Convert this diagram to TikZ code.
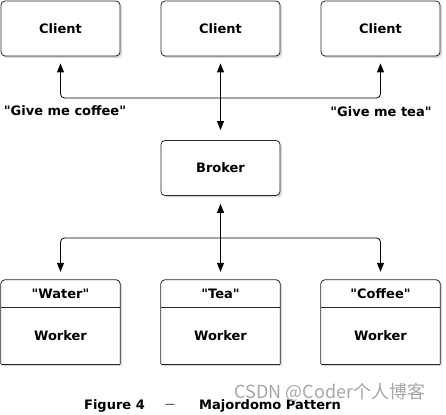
\documentclass[tikz,border=0pt]{standalone}
\usepackage{fontspec}
\setmainfont{DejaVu Sans}[Ligatures=TeXOff]
\newfontfamily\cjkfont{Noto Sans CJK SC}
\usetikzlibrary{arrows.meta,shadows}
\tikzset{
  shad/.style={drop shadow={shadow xshift=2pt,shadow yshift=-2pt,opacity=0.3}},
  box/.style={draw=black!85, line width=0.8pt, fill=white, rounded corners=4pt, shad,
    minimum width=119pt, minimum height=55pt, inner sep=0pt,
    font=\fontsize{13}{15}\selectfont\bfseries},
  wbox/.style={minimum width=119pt, minimum height=84pt, inner sep=0pt},
  wshape/.style={draw=black!85, line width=0.8pt, fill=white, rounded corners=4pt, shad},
  lbl/.style={inner sep=0pt, font=\fontsize{13}{15}\selectfont\bfseries},
  tip/.tip={Triangle[length=9pt,width=7pt]},
  conn/.style={line width=0.8pt, -tip, rounded corners=4pt},
  dconn/.style={line width=0.8pt, tip-tip},
}
\begin{document}
\begin{tikzpicture}[x=1pt,y=1pt]
\useasboundingbox (0,0) rectangle (446,414);
% clients
\node[box] (c1) at (60.5,385.5) {Client};
\node[box] (c2) at (220.5,385.5) {Client};
\node[box] (c3) at (380.5,385.5) {Client};
% broker
\node[box] (b) at (220.5,246) {Broker};
% workers
\foreach \n/\x/\h in {w1/60.5/"Water", w2/220.5/"Tea", w3/380.5/"Coffee"}{
  \node[wbox] (\n) at (\x,92) {};
  \filldraw[wshape] (\n.south west) -- (\n.north west) -- (\n.north east) -- (\n.south east);
  \draw[line width=0.8pt, draw=black!85] (\n.south west) -- (\n.south east);
  \draw[line width=0.8pt, draw=black!85] ([yshift=-28pt]\n.north west) -- ([yshift=-28pt]\n.north east);
  \node[lbl] (\n h) at (\x,120) {\h};
  \node[lbl] (\n t) at (\x,78) {Worker};
}
% top connectors
\coordinate (jt) at (220.5,316);
\draw[conn] (jt) -| ([yshift=-7pt]c1.south);
\draw[conn] (jt) -| ([yshift=-7pt]c3.south);
\draw[dconn] ([yshift=-7pt]c2.south) -- ([yshift=10pt]b.north);
% bottom connectors
\coordinate (jb) at (220.5,176);
\draw[conn] (jb) -| ([yshift=8pt]w1.north);
\draw[conn] (jb) -| ([yshift=8pt]w3.north);
\draw[dconn] ([yshift=-8pt]b.south) -- ([yshift=8pt]w2.north);
% labels
\node[lbl] (q1) at (65,303) {"Give me coffee"};
\node[lbl] (q2) at (381,302) {"Give me tea"};
% caption
\node[lbl] (fig) at (114.5,8) {Figure 4};
\node[inner sep=0pt, font=\fontsize{10}{12}\selectfont] (dash) at (170,8.5) {—};
\node[lbl] (title) at (270,8) {Majordomo Pattern};
% watermark
\node[inner sep=0pt, text=black!35, font=\cjkfont\fontsize{18}{18}\selectfont] (wm) at (330,22) {CSDN @Coder个人博客};
\end{tikzpicture}
\end{document}
